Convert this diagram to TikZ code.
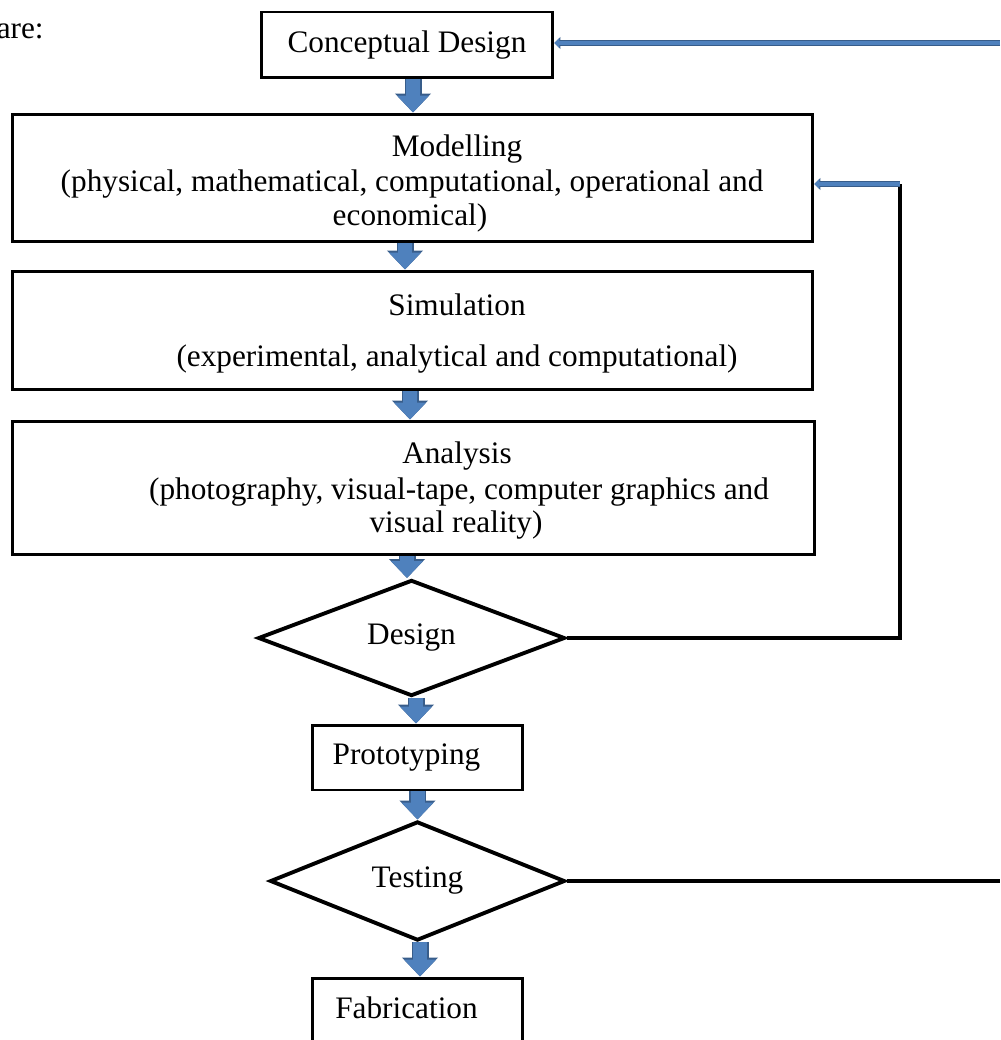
\documentclass[tikz,border=0pt]{standalone}
\usepackage{fontspec}
\setmainfont{Liberation Serif}
\usepackage{xcolor}
\usetikzlibrary{arrows.meta,shapes.geometric}

\definecolor{arrowfill}{HTML}{4F81BD}
\definecolor{arrowline}{HTML}{385D8A}

\tikzset{
  box/.style={draw, line width=1.7pt, inner sep=0pt},
  decision/.style={diamond, draw, line width=2.2pt, inner sep=0pt},
  txt/.style={font=\fontsize{17.8}{20}\selectfont, inner sep=0pt},
  flowarrow/.style={arrowfill, line width=0.28cm, -{Triangle[width=0.62cm,length=0.34cm]},
    preaction={draw=arrowline, line width=0.34cm, -{Triangle[width=0.7cm,length=0.38cm]}}},
  fbarrow/.style={arrowfill, line width=0.09cm, -{Triangle[width=0.2cm,length=0.1cm]},
    preaction={draw=arrowline, line width=0.13cm, -{Triangle[width=0.24cm,length=0.12cm]}}},
  fbline/.style={line width=2.2pt}
}

\begin{document}
\begin{tikzpicture}[x=0.02cm,y=-0.02cm]

% Page size
\useasboundingbox (0,0) rectangle (1000,1040);
\clip (0,0) rectangle (1000,1040);

% Coordinates for the feedback lines
\coordinate (toprt) at (1000,43);   % top line comes in from the right edge
\coordinate (fbmid) at (900,184);   % corner of the loop back to Modelling
\coordinate (botrt) at (1000,881);  % Testing line leaves at the right edge

% Text before the chart
\node[txt, anchor=east] (intro) at (44,31) {are:};

% Boxes
\node[box, minimum width=5.84cm, minimum height=1.32cm, txt] (concept) at (407,45) {\raisebox{-2pt}{Conceptual Design}};
\node[box, minimum width=16.02cm, minimum height=2.56cm] (model) at (412.5,178) {};
\node[box, minimum width=16.02cm, minimum height=2.38cm] (sim) at (412.5,330.5) {};
\node[box, minimum width=16.06cm, minimum height=2.68cm] (anal) at (413.5,488) {};
\node[decision, minimum width=6.14cm, minimum height=2.32cm, txt] (design) at (411.5,638) {\raisebox{-2pt}{Design}};
\node[box, minimum width=4.22cm, minimum height=1.3cm, txt] (proto) at (417.5,757.5) {\hspace*{-0.44cm}\raisebox{3pt}{Prototyping}};
\node[decision, minimum width=5.9cm, minimum height=2.36cm, txt] (test) at (417.5,881) {\raisebox{-2pt}{Testing}};
\node[box, minimum width=4.22cm, minimum height=1.3cm, txt] (fab) at (417.5,1010.5) {\hspace*{-0.44cm}\raisebox{3pt}{Fabrication}};

% Text in the Modelling box
\node[txt] (modelA) at (457,149) {Modelling};
\node[txt] (modelB) at (412,184) {(physical, mathematical, computational, operational and};
\node[txt] (modelC) at (410,218) {economical)};

% Text in the Simulation box
\node[txt] (simA) at (457,305) {Simulation};
\node[txt] (simB) at (457,359) {(experimental, analytical and computational)};

% Text in the Analysis box
\node[txt] (analA) at (457,456) {Analysis};
\node[txt] (analB) at (459,492) {(photography, visual-tape, computer graphics and};
\node[txt] (analC) at (456,525) {visual reality)};

% Block arrows down the chart
\draw[flowarrow] (concept.south -| 413,0) -- (model.north -| 413,0);
\draw[flowarrow] (model.south -| 405,0) -- (sim.north -| 405,0);
\draw[flowarrow] (sim.south -| 410,0) -- (anal.north -| 410,0);
\draw[flowarrow] (anal.south -| 407,0) -- (design.north -| 407,0);
\draw[flowarrow] (design.south -| 416,0) -- (proto.north -| 416,0);
\draw[flowarrow] (proto.south) -- (proto.south |- test.north);
\draw[flowarrow] (test.south -| 420,0) -- (fab.north -| 420,0);

% Feedback to Conceptual Design
\draw[fbarrow] (toprt) -- (toprt -| concept.east);

% Feedback from Design to Modelling
\draw[fbline] (design.east) -- (design.east -| fbmid) -- (fbmid);
\draw[fbarrow] (fbmid) -- (fbmid -| model.east);

% Line out of Testing
\draw[fbline] (test.east) -- (botrt);

\end{tikzpicture}
\end{document}
